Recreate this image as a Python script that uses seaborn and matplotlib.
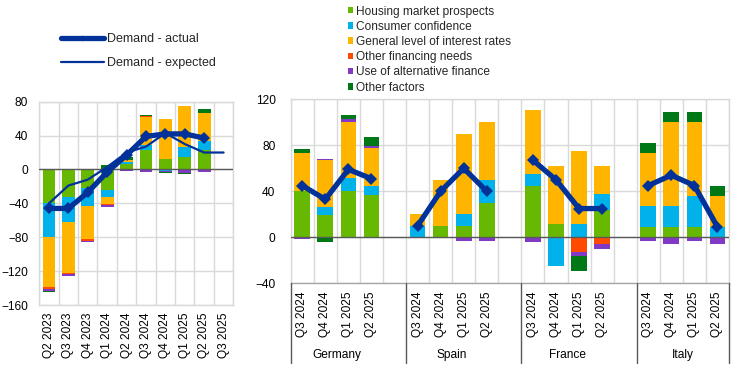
import numpy as np
import pandas as pd
import matplotlib
matplotlib.use("Agg")
import matplotlib.pyplot as plt
import matplotlib.transforms as mtransforms
from matplotlib.patches import Patch
from matplotlib.lines import Line2D
import seaborn as sns

# ---------------- data ----------------
series_names = ["Housing market prospects", "Consumer confidence",
                "General level of interest rates", "Other financing needs",
                "Use of alternative finance", "Other factors"]

# left panel (euro area)
quarters_left = ["Q2 2023", "Q3 2023", "Q4 2023", "Q1 2024", "Q2 2024",
                 "Q3 2024", "Q4 2024", "Q1 2025", "Q2 2025", "Q3 2025"]
housing_left = [-40, -33, -22, -24, 6, 23, 12, 15, 23, 0]
consumer_left = [-40, -29, -21, -9, 2.5, 6, -1.5, 11, 10.5, 0]
interest_left = [-59, -60, -39, -8, 2.5, 33, 47, 49, 33, 0]
financing_left = [-2, -1, -2, -1, 0, 1, 1, -1.2, 0, 0]
alternative_left = [-2.2, -3, -2, -2, -1.5, -3, -1.2, -2.8, -3, 0]
other_left = [-1.3, 0, 1, 5, 3.5, 1, -1.3, -1.2, 4.5, 0]
actual_left = [-46, -46, -27, -3, 17, 39, 42, 42, 37, np.nan]
expected_left = [-40, -19, -12, 3, 20, 27, 43, 30, 20, 20]

# right panel (countries)
countries = ["Germany", "Spain", "France", "Italy"]
quarters_right = ["Q3 2024", "Q4 2024", "Q1 2025", "Q2 2025"]
housing_right = [40, 19, 40, 37, 0, 10, 10, 30, 45, 12, 0, 24, 9, 9, 9, 0]
consumer_right = [0, 7, 12, 8, 10, 0, 10, 20, 10, -25, 12, 14, 18, 18, 27, 9]
interest_right = [33, 41, 48, 33, 10, 40, 70, 50, 56, 50, 63, 24, 46, 73, 64, 27]
financing_right = [0, 0, 0, 0, 0, 0, 0, 0, 0, 0, -13, -6, 0, 0, 0, 0]
alternative_right = [-1.7, 1, 3, 1, 0, 0, -3, -3, -4, 0, -3.5, -4, -3, -6, -3, -6]
other_right = [4, -4, 3, 8, 0, 0, 0, 0, 0, 0, -13, 0, 9, 9, 9, 9]
actual_right = [45, 33, 59, 51, 10, 40, 60, 40, 67, 50, 25, 25, 45, 54, 45, 9]

colors = ["#66b900", "#00b1ea", "#ffb400", "#ff4b00", "#8139c6", "#007816"]
line_color = "#003299"
grid_color = "#d9d9d9"
zero_color = "#595959"

# ---------------- style ----------------
sns.set_theme(style="white")
plt.rcParams["font.family"] = ["Liberation Sans", "DejaVu Sans"]
FS = 8.6

W, H = 745, 383
fig = plt.figure(figsize=(W / 100, H / 100), dpi=100)


def fig_axes(x0, y0, x1, y1):
    return fig.add_axes([x0 / W, 1 - y1 / H, (x1 - x0) / W, (y1 - y0) / H])


def stacked(ax, pos, layers, width):
    pos = np.asarray(pos, dtype=float)
    pb = np.zeros(len(pos))
    nb = np.zeros(len(pos))
    for vals, c in zip(layers, colors):
        v = np.asarray(vals, dtype=float)
        pv = np.where(v > 0, v, 0)
        nv = np.where(v < 0, v, 0)
        ax.bar(pos, pv, width, bottom=pb, color=c, linewidth=0, zorder=2)
        ax.bar(pos, nv, width, bottom=nb, color=c, linewidth=0, zorder=2)
        pb += pv
        nb += nv


def style_axes(ax, n, ylim, yticks, pad_x, pad_y):
    ax.set_xlim(-0.5, n - 0.5)
    ax.set_ylim(*ylim)
    ax.set_yticks(yticks)
    ax.set_xticks(np.arange(-0.5, n, 1.0), minor=True)
    ax.grid(True, which="minor", axis="x", color=grid_color, lw=1, zorder=0)
    ax.grid(True, which="major", axis="y", color=grid_color, lw=1, zorder=0)
    ax.grid(False, which="major", axis="x")
    ax.tick_params(axis="both", which="both", length=0, labelsize=FS,
                   colors="black")
    ax.tick_params(axis="x", pad=pad_x, rotation=90)
    ax.tick_params(axis="y", pad=pad_y)
    for s in ax.spines.values():
        s.set_color(grid_color)
        s.set_linewidth(1)
    ax.axhline(0, color=zero_color, lw=1, zorder=3)


# ---------------- left panel ----------------
axL = fig_axes(39.3, 101.7, 233.3, 305)
posL = np.arange(len(quarters_left))
stacked(axL, posL, [housing_left, consumer_left, interest_left,
                    financing_left, alternative_left, other_left], 0.66)
dfL = pd.DataFrame({"pos": posL, "actual": actual_left,
                    "expected": expected_left})
sns.lineplot(data=dfL, x="pos", y="expected", ax=axL, color=line_color,
             lw=1.6, zorder=4)
sns.lineplot(data=dfL.dropna(), x="pos", y="actual", ax=axL, color=line_color,
             lw=3.8, marker="D", markersize=6.5, markeredgewidth=0, zorder=5)
style_axes(axL, len(quarters_left), (-160, 80), np.arange(-160, 81, 40), 5.5, 8)
axL.set_xticks(posL)
axL.set_xticklabels(quarters_left)
axL.set_xlabel("")
axL.set_ylabel("")

# ---------------- right panel ----------------
axR = fig_axes(290.7, 99.3, 729, 283.3)
posR = np.array([g * 5 + i for g in range(4) for i in range(4)])
stacked(axR, posR, [housing_right, consumer_right, interest_right,
                    financing_right, alternative_right, other_right], 0.68)
dfR = pd.DataFrame({"pos": posR, "actual": actual_right,
                    "country": np.repeat(countries, 4)})
sns.lineplot(data=dfR, x="pos", y="actual", units="country", estimator=None,
             ax=axR, color=line_color, lw=3.8, marker="D", markersize=6.5,
             markeredgewidth=0, zorder=5)
style_axes(axR, 19, (-40, 120), np.arange(-40, 121, 40), 6, 11)
axR.set_xticks(posR)
axR.set_xticklabels(quarters_right * 4)
axR.set_xlabel("")
axR.set_ylabel("")
axR.spines["bottom"].set_color("#a6a6a6")

trans = mtransforms.blended_transform_factory(axR.transData, axR.transAxes)
sep_depth = (363 - 283.3) / (283.3 - 99.3)
for xs in [-0.5, 4.5, 9.5, 14.5, 18.5]:
    axR.plot([xs, xs], [0, -sep_depth], transform=trans, color=zero_color,
             lw=1, clip_on=False, zorder=6)
lab_y = -(355 - 283.3) / (283.3 - 99.3)
for g, c in enumerate(countries):
    axR.text(g * 5 + 1.5, lab_y, c, transform=trans, ha="center", va="center",
             fontsize=FS, color="black")

# ---------------- legends ----------------
FSL = 9.0
line_handles = [Line2D([], [], color=line_color, lw=3.8, marker="D",
                       markersize=3, markeredgewidth=0),
                Line2D([], [], color=line_color, lw=1.6)]
fig.legend(line_handles, ["Demand - actual", "Demand - expected"],
           loc="upper left", bbox_to_anchor=(61 / W, 1 - 33.5 / H),
           frameon=False, fontsize=FSL, handlelength=3.4, handletextpad=0.25,
           labelspacing=0.95, borderaxespad=0, borderpad=0)

patch_handles = [Patch(facecolor=c, edgecolor="none") for c in colors]
fig.legend(patch_handles, series_names, loc="upper left",
           bbox_to_anchor=(347.5 / W, 1 - 5.5 / H), frameon=False, fontsize=FS,
           handlelength=0.45, handleheight=0.45, handletextpad=0.3,
           labelspacing=0.27, borderaxespad=0, borderpad=0)

fig.savefig("out.png", dpi=100)
